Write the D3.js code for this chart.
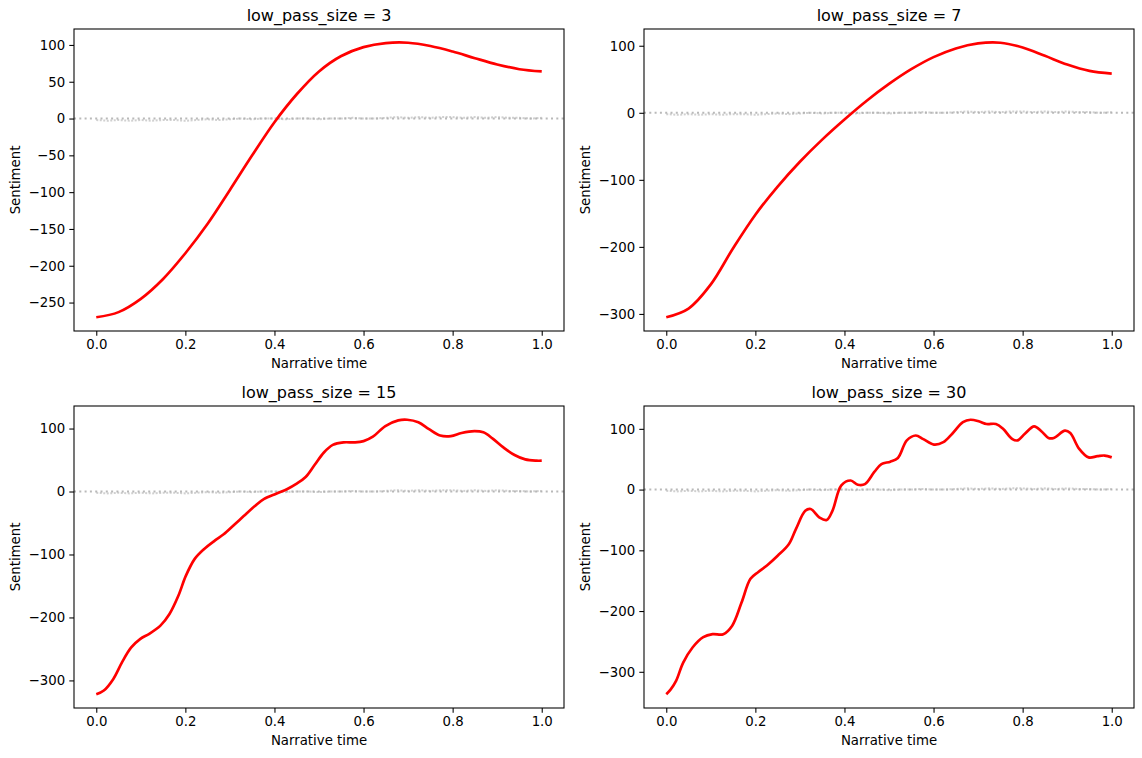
<!DOCTYPE html>
<html>
<head>
<meta charset="utf-8">
<script src="https://cdn.jsdelivr.net/npm/d3@7"></script>
<style>
    body { margin: 0; background: #fff; }
    text { font-family: "DejaVu Sans", sans-serif; }
</style>
</head>
<body>
<div id="chart"></div>
<script>
// low pass sizes, one panel each
const lowPassSizes = [3, 7, 15, 30];

// narrative time ticks
const timeTicks = [0, 0.2, 0.4, 0.6, 0.8, 1.0];

// sentiment ticks per panel
const sentimentTicks3 = [-250, -200, -150, -100, -50, 0, 50, 100];
const sentimentTicks7 = [-300, -200, -100, 0, 100];
const sentimentTicks15 = [-300, -200, -100, 0, 100];
const sentimentTicks30 = [-300, -200, -100, 0, 100];

// transformed arcs
const gridTime = [0, 0.05, 0.1, 0.15, 0.2, 0.25, 0.3, 0.35, 0.4, 0.45, 0.5,
    0.55, 0.6, 0.65, 0.7, 0.75, 0.8, 0.85, 0.9, 0.95, 1.0];
const arc3 = [-270, -263, -245, -218, -183, -143, -97, -50, -5, 33, 64,
    85, 97, 102.5, 103, 98.5, 91, 82, 73.5, 67, 64];
const arc7 = [-305, -292, -256, -202, -152, -110, -73, -40, -10, 18, 43,
    65, 83, 96, 103.5, 104.5, 97.5, 85, 72, 62.5, 58.5];

const arc15Time = [0, 0.017, 0.038, 0.058, 0.078, 0.099, 0.119, 0.144, 0.164, 0.184,
    0.201, 0.221, 0.241, 0.266, 0.286, 0.311, 0.331, 0.356, 0.376, 0.405, 0.429,
    0.449, 0.47, 0.49, 0.511, 0.531, 0.555, 0.58, 0.6, 0.621, 0.649, 0.678, 0.698,
    0.723, 0.747, 0.772, 0.796, 0.82, 0.849, 0.869, 0.89, 0.914, 0.939, 0.963, 0.988, 1.0];
const arc15 = [-322, -316, -298, -271, -248, -234, -226, -213, -195, -166,
    -134, -107, -92, -78, -68, -52, -39, -23, -12, -3, 4,
    12, 23, 42, 62, 74, 78, 78, 80, 87, 104, 113, 114,
    110, 99, 89, 88, 93, 96, 94, 84, 70, 58, 51, 49, 49];

const arc30Time = [0, 0.01, 0.022, 0.038, 0.059, 0.083, 0.104, 0.128, 0.148, 0.169,
    0.189, 0.206, 0.226, 0.25, 0.275, 0.291, 0.312, 0.324, 0.344, 0.36, 0.373,
    0.393, 0.414, 0.43, 0.446, 0.467, 0.483, 0.503, 0.52, 0.54, 0.56, 0.577,
    0.601, 0.622, 0.642, 0.666, 0.683, 0.703, 0.719, 0.74, 0.756, 0.777, 0.789,
    0.805, 0.826, 0.842, 0.858, 0.87, 0.895, 0.907, 0.927, 0.948, 0.968, 0.984, 1.0];
const arc30 = [-337, -329, -315, -285, -260, -243, -238, -238, -224, -186,
    -147, -136, -125, -109, -90, -65, -35, -32, -46, -50, -35,
    7, 15, 8, 9, 29, 42, 46, 52, 81, 89, 83,
    74, 78, 92, 111, 115, 112, 108, 108, 100, 83, 81,
    92, 104, 96, 85, 85, 97, 93, 67, 53, 55, 56, 53];

// raw sentence sentiment, barely off zero at this scale
const rawSentiment = [-2, -3, -2, -3, -2, -3, -2, -2, -3, -2, -1, -2, -1, 0, -1, 0,
    0, -1, 0, 0, -1, 0, 0, 1, 0, 0, 1, 2, 1, 2, 1, 2, 2, 1, 2, 1, 2, 1, 1, 0, 1];

const panels = [
    {size: lowPassSizes[0], time: gridTime, arc: arc3, ticks: sentimentTicks3},
    {size: lowPassSizes[1], time: gridTime, arc: arc7, ticks: sentimentTicks7},
    {size: lowPassSizes[2], time: arc15Time, arc: arc15, ticks: sentimentTicks15},
    {size: lowPassSizes[3], time: arc30Time, arc: arc30, ticks: sentimentTicks30}
];

const W = 1142, H = 758;
const colLeft = [74, 644];
const rowTop = [29, 406];
const pw = 490, ph = 302;
const tickLen = 4.7, fs = 13.3;

const svg = d3.select("#chart").append("svg")
        .attr("width", W)
        .attr("height", H);

panels.forEach(function(p, i) {
    const left = colLeft[i % 2];
    const top = rowTop[Math.floor(i / 2)];
    const g = svg.append("g").attr("transform", `translate(${left},${top})`);

    const x = d3.scaleLinear().domain([-0.05, 1.05]).range([0, pw]);
    const ext = d3.extent(p.arc);
    const pad = (ext[1] - ext[0]) * 0.05;
    const y = d3.scaleLinear().domain([ext[0] - pad, ext[1] + pad]).range([ph, 0]);

    // zero reference line
    g.append("line")
            .attr("x1", 0).attr("x2", pw)
            .attr("y1", y(0)).attr("y2", y(0))
            .attr("stroke", "#808080")
            .attr("stroke-opacity", 0.55)
            .attr("stroke-width", 2)
            .attr("stroke-dasharray", "2,3.3");

    // raw sentiment
    const rawLine = d3.line()
            .x(function(d, j) { return x(j / (rawSentiment.length - 1)); })
            .y(function(d) { return y(d); });
    g.append("path")
            .datum(rawSentiment)
            .attr("d", rawLine)
            .attr("fill", "none")
            .attr("stroke", "#b0b0b0")
            .attr("stroke-opacity", 0.6)
            .attr("stroke-width", 2)
            .attr("stroke-dasharray", "2,1.5");

    // transformed arc
    const arcLine = d3.line()
            .x(function(d, j) { return x(p.time[j]); })
            .y(function(d) { return y(d); })
            .curve(d3.curveCatmullRom.alpha(0.5));
    g.append("path")
            .datum(p.arc)
            .attr("d", arcLine)
            .attr("fill", "none")
            .attr("stroke", "#ff0000")
            .attr("stroke-width", 2.67)
            .attr("stroke-linejoin", "round");

    // axes
    const xAxis = g.append("g")
            .attr("transform", `translate(0,${ph})`)
            .call(d3.axisBottom(x).tickValues(timeTicks)
                    .tickFormat(d3.format(".1f"))
                    .tickSize(tickLen).tickPadding(4.2));
    const yAxis = g.append("g")
            .call(d3.axisLeft(y).tickValues(p.ticks)
                    .tickFormat(function(d) { return d < 0 ? "\u2212" + Math.abs(d) : String(d); })
                    .tickSize(tickLen).tickPadding(4.2));
    [xAxis, yAxis].forEach(function(a) {
        a.select(".domain").remove();
        a.selectAll("line").attr("stroke", "#000").attr("stroke-width", 1.07);
        a.selectAll("text")
                .attr("fill", "#000")
                .style("font-size", fs + "px")
                .style("font-family", "DejaVu Sans");
    });

    // frame
    g.append("rect")
            .attr("width", pw).attr("height", ph)
            .attr("fill", "none")
            .attr("stroke", "#000")
            .attr("stroke-width", 1.07);

    g.append("text")
            .text("low_pass_size = " + p.size)
            .attr("x", pw / 2)
            .attr("y", -8)
            .style("font-size", "16px")
            .style("text-anchor", "middle");

    g.append("text")
            .text("Narrative time")
            .attr("x", pw / 2)
            .attr("y", ph + 37)
            .style("font-size", fs + "px")
            .style("text-anchor", "middle");

    g.append("text")
            .text("Sentiment")
            .attr("transform", `translate(-54,${ph / 2}) rotate(-90)`)
            .style("font-size", fs + "px")
            .style("text-anchor", "middle");
});
</script>
</body>
</html>
